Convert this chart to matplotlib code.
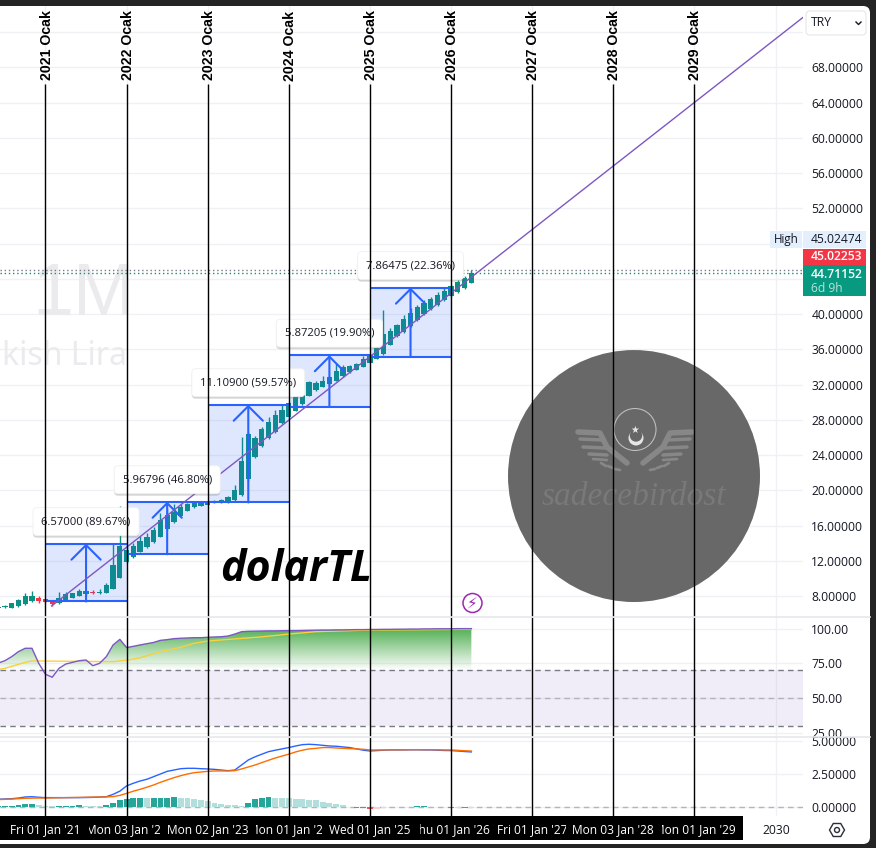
import numpy as np
import matplotlib
matplotlib.use("Agg")
import matplotlib.pyplot as plt
from matplotlib.patches import Rectangle, Ellipse, Circle, RegularPolygon, FancyBboxPatch
from matplotlib.path import Path
from matplotlib.transforms import Affine2D, Bbox
from matplotlib.patheffects import withSimplePatchShadow

plt.rcParams['font.family'] = ['Open Sans', 'DejaVu Sans']

# months counted from Jan 2021
months = list(range(-7, 64))
opens = [6.60, 6.71, 6.68, 6.87, 7.09, 7.43, 7.77, 7.62, 7.43, 7.25, 7.47, 7.81, 8.00, 8.23, 8.45, 8.34, 8.38,
         8.83, 10.08, 11.90, 12.47, 13.03, 13.60, 14.17, 14.73, 15.57, 16.44, 17.12, 17.69, 18.07, 18.25,
         18.37, 18.59, 18.63, 18.67, 18.89, 19.46, 21.28, 23.81, 25.06, 25.89, 26.65, 27.59, 28.35, 29.03,
         29.79, 30.74, 31.38, 31.76, 32.06, 32.44, 32.97, 33.42, 33.65, 34.03, 34.48, 34.94, 35.50, 36.53,
         37.50, 38.00, 38.64, 39.32, 40.00, 40.54, 41.03, 41.59, 42.05, 42.54, 42.99, 43.56]
closes = [6.71, 6.87, 7.17, 7.55, 7.96, 8.00, 7.39, 7.32, 7.09, 7.73, 8.19, 8.30, 8.53, 8.53, 8.38, 8.49, 9.21,
          11.52, 13.68, 13.22, 13.68, 14.24, 14.73, 15.49, 16.63, 17.20, 17.57, 18.14, 18.44, 18.52, 18.63,
          18.67, 18.78, 18.90, 19.28, 20.03, 23.32, 26.38, 25.89, 26.95, 27.78, 28.54, 29.11, 29.87, 30.70,
          30.81, 32.25, 32.14, 32.40, 32.82, 33.54, 34.03, 34.10, 34.29, 34.90, 35.35, 36.11, 37.70, 38.08,
          38.76, 39.44, 40.08, 40.84, 41.29, 41.71, 42.16, 42.65, 43.18, 43.64, 44.13, 44.71]
highs = [6.75, 6.95, 7.25, 7.65, 8.38, 8.57, 8.00, 7.70, 7.45, 8.42, 8.42, 8.40, 8.76, 8.55, 8.64, 8.83, 9.44,
         13.98, 18.20, 13.90, 14.00, 14.80, 15.10, 15.80, 17.40, 17.95, 18.44, 18.50, 18.60, 18.60, 18.70,
         18.75, 18.85, 19.05, 19.40, 20.60, 26.08, 26.60, 26.20, 27.22, 28.35, 29.11, 29.68, 30.05, 30.80,
         30.90, 32.44, 32.44, 32.97, 32.97, 34.41, 34.20, 34.22, 34.45, 35.24, 35.47, 36.30, 40.46, 38.38,
         38.90, 39.89, 40.65, 41.03, 41.60, 41.97, 42.46, 42.92, 43.30, 43.86, 44.32, 45.02]
lows = [6.55, 6.65, 6.62, 6.80, 7.00, 7.35, 7.17, 7.25, 6.87, 7.15, 7.40, 7.75, 7.95, 8.15, 8.19, 8.19, 8.30,
        8.75, 10.00, 11.70, 12.30, 12.95, 13.50, 14.05, 14.65, 15.45, 16.30, 17.05, 17.60, 18.00, 18.20,
        18.30, 18.55, 18.55, 18.60, 18.80, 19.40, 21.10, 23.70, 24.95, 25.80, 26.55, 27.50, 28.25, 28.95,
        29.70, 30.65, 31.30, 31.70, 32.00, 32.35, 32.90, 33.35, 33.60, 33.95, 34.40, 34.85, 35.40, 36.45,
        37.40, 37.90, 38.55, 39.25, 39.90, 40.45, 40.95, 41.50, 41.95, 42.45, 42.90, 43.50]

# measured moves: start month, end month, arrow month, low, high, label
box_start = [0, 12, 24, 36, 48]
box_end = [12, 24, 36, 48, 60]
box_mid = [6, 18, 30, 42, 54]
box_low = [7.38, 12.74, 18.62, 29.47, 35.15]
box_high = [13.95, 18.71, 29.72, 35.34, 43.01]
box_labels = ["6.57000 (89.67%)", "5.96796 (46.80%)", "11.10900 (59.57%)", "5.87205 (19.90%)", "7.86475 (22.36%)"]

trend_x = [0.9, 112.1]
trend_y = [6.87, 73.7]

year_months = [0, 12, 24, 36, 48, 60, 72, 84, 96]
year_labels = ["2021 Ocak", "2022 Ocak", "2023 Ocak", "2024 Ocak", "2025 Ocak", "2026 Ocak", "2027 Ocak",
               "2028 Ocak", "2029 Ocak"]
date_labels = ["Fri 01 Jan '21", "Mon 03 Jan '22", "Mon 02 Jan '23", "Mon 01 Jan '24", "Wed 01 Jan '25",
               "Thu 01 Jan '26", "Fri 01 Jan '27", "Mon 03 Jan '28", "Mon 01 Jan '29"]

rsi = [75.2, 76.9, 79.8, 83.4, 85.8, 85.8, 75.0, 67.1, 65.0, 71.4, 74.5, 75.7, 76.9, 77.4, 73.3, 75.0, 79.8,
       88.2, 92.2, 86.3, 87.2, 88.2, 89.1, 90.0, 91.5, 92.0, 92.7, 93.0, 93.2, 93.4, 93.4, 93.7, 93.9,
       94.1, 94.6, 96.0, 97.7, 98.0, 98.1, 98.2, 98.3, 98.3, 98.4, 98.5, 98.5, 98.6, 98.7, 98.8, 98.9,
       98.9, 99.0, 99.0, 99.1, 99.2, 99.2, 99.3, 99.3, 99.4, 99.4, 99.5, 99.5, 99.6, 99.6, 99.7, 99.7,
       99.8, 99.8, 99.8, 99.9, 99.9, 99.9]
rsi_ma_x = [-7, -6, -3, -2, 10, 12, 14, 17, 20, 22, 24, 28, 32, 36, 40, 48, 63]
rsi_ma = [70.6, 71.4, 75.7, 76.7, 76.2, 77.2, 79.0, 83.4, 86.5, 89.4, 91.0, 92.5, 94.0, 96.0, 97.7, 98.9, 99.4]

macd = [0.59, 0.61, 0.63, 0.68, 0.76, 0.78, 0.74, 0.71, 0.71, 0.71, 0.71, 0.71, 0.71, 0.72, 0.73, 0.75, 0.78,
        0.96, 1.20, 1.60, 1.80, 1.97, 2.10, 2.30, 2.50, 2.70, 2.80, 2.90, 2.93, 2.93, 2.90, 2.88, 2.85,
        2.80, 2.75, 2.80, 3.18, 3.56, 3.80, 4.00, 4.19, 4.30, 4.40, 4.50, 4.62, 4.72, 4.75, 4.72, 4.67,
        4.62, 4.60, 4.55, 4.50, 4.40, 4.30, 4.24, 4.27, 4.30, 4.32, 4.32, 4.32, 4.33, 4.33, 4.32, 4.32,
        4.30, 4.28, 4.27, 4.24, 4.20, 4.17]
signal = [0.56, 0.58, 0.60, 0.63, 0.66, 0.67, 0.68, 0.68, 0.69, 0.70, 0.71, 0.72, 0.73, 0.74, 0.75, 0.76, 0.76,
          0.79, 0.88, 1.03, 1.20, 1.34, 1.50, 1.67, 1.87, 2.05, 2.22, 2.37, 2.50, 2.60, 2.65, 2.70, 2.73,
          2.73, 2.73, 2.75, 2.88, 3.03, 3.18, 3.36, 3.54, 3.71, 3.86, 4.00, 4.17, 4.30, 4.40, 4.44, 4.50,
          4.50, 4.47, 4.44, 4.42, 4.40, 4.37, 4.32, 4.32, 4.32, 4.33, 4.33, 4.33, 4.34, 4.34, 4.34, 4.34,
          4.33, 4.32, 4.32, 4.29, 4.26, 4.24]
hist = [0.08, 0.10, 0.10, 0.13, 0.20, 0.20, 0.18, 0.10, 0.05, 0.05, 0.10, 0.10, 0.12, 0.10, 0.09, 0.08, 0.13,
        0.28, 0.50, 0.63, 0.66, 0.67, 0.65, 0.66, 0.67, 0.70, 0.73, 0.70, 0.66, 0.58, 0.50, 0.43, 0.33,
        0.25, 0.18, 0.13, 0.10, 0.28, 0.58, 0.66, 0.73, 0.72, 0.71, 0.68, 0.63, 0.58, 0.56, 0.50, 0.35,
        0.28, 0.20, 0.13, -0.03, -0.08, -0.10, -0.13, -0.12, -0.06, -0.03, -0.02, -0.02, 0.03, 0.10, 0.11,
        0.02, 0.00, -0.03, -0.05, -0.05, -0.06, -0.06]

price_ticks = [8, 12, 16, 20, 24, 28, 32, 36, 40, 44, 48, 52, 56, 60, 64, 68, 72]
price_tick_labels = ["8.00000", "12.00000", "16.00000", "20.00000", "24.00000", "28.00000", "32.00000",
                     "36.00000", "40.00000", "", "", "52.00000", "56.00000", "60.00000", "64.00000",
                     "68.00000", ""]
rsi_ticks = [25, 50, 75, 100]
rsi_tick_labels = ["25.00", "50.00", "75.00", "100.00"]
macd_ticks = [0, 2.5, 5]
macd_tick_labels = ["0.00000", "2.50000", "5.00000"]

W, H = 876, 848
GREEN = '#0a9181'
RED = '#f23645'
BLUE = '#2962ff'
PURPLE = '#7e57c2'
GRID = '#f0f1f4'
INK = '#131722'
DISC = '#666666'


def pane(top, bottom):
    return fig.add_axes([0, 1 - bottom / H, 803 / W, (bottom - top) / H])


fig = plt.figure(figsize=(W / 100, H / 100), dpi=100, facecolor='#242424')
# screen pixels, origin top left
px = Affine2D().scale(1, -1).translate(0, H)

fig.add_artist(FancyBboxPatch((-20, 6), 890, 838, boxstyle='round,pad=0,rounding_size=7', fc='white', ec='none',
                              transform=px, zorder=-5))

ax = pane(6, 617)
ax_rsi = pane(617, 737)
ax_macd = pane(737, 816)

for a in (ax, ax_rsi, ax_macd):
    a.set_xlim(-6.73, 112.06)
    a.set_xticks(year_months + [108])
    a.tick_params(axis='x', length=0, labelbottom=False)
    a.tick_params(axis='y', length=0, pad=6, labelsize=8.7, labelcolor=INK, right=False, left=False)
    a.yaxis.tick_right()
    a.grid(True, color=GRID, lw=1)
    a.set_axisbelow(True)
    for s in a.spines.values():
        s.set_visible(False)

ax.set_ylim(5.62, 74.97)
ax.set_yticks(price_ticks, labels=price_tick_labels)
ax_rsi.set_ylim(22.1, 108.26)
ax_rsi.set_yticks(rsi_ticks, labels=rsi_tick_labels)
ax_macd.set_ylim(-0.68, 5.30)
ax_macd.set_yticks(macd_ticks, labels=macd_tick_labels)

# faint symbol watermark
ax.text(135, 315, "1M", transform=px, ha='right', va='baseline', fontsize=53, color='#ebebee',
        family='Liberation Sans', zorder=1)
ax.text(2, 365, "kish Lira", transform=px, ha='left', va='baseline', fontsize=23,
        color='#ebebee', family='Noto Sans', zorder=1)

# price lines
ax.axhline(closes[-1], color=GREEN, lw=1, ls=(0, (1, 2)), zorder=1.5)
ax.axhline(highs[-1], color='#787b86', lw=1, ls=(0, (1, 2)), zorder=1.5)

# candles
m = np.array(months)
o = np.array(opens)
c = np.array(closes)
colors = [GREEN if b >= a else RED for a, b in zip(opens, closes)]
ax.vlines(m, lows, highs, colors=colors, lw=1, zorder=2)
body = np.maximum(np.abs(c - o), 0.06)
ax.bar(m, body, bottom=np.minimum(o, c), width=0.78, color=colors, zorder=2.1)

# logo disc
ax.add_patch(Ellipse((87.06, 21.62), 37.28, 28.6, fc=DISC, ec='none', alpha=0.985, zorder=3))
ax.add_patch(Circle((635, 429.5), 21, transform=px, fc='none', ec='#bdbdbd', lw=0.8, zorder=3.1))
ax.add_patch(Circle((636, 438), 7.5, transform=px, fc='#e6e6e6', ec='none', zorder=3.1))
ax.add_patch(Circle((636, 435.5), 6.2, transform=px, fc=DISC, ec='none', zorder=3.15))
ax.text(634.5, 429.5, "\u2605", transform=px, ha='center', va='center', fontsize=7, color='#e6e6e6',
        family='DejaVu Sans', zorder=3.2)
wing_parts = [([-57, -35, -28, -8], [432, 433, 447, 463], 4),
              ([-55, -32], [439, 440], 2.5), ([-52, -30], [447, 448], 2.5), ([-46, -28], [454, 455], 2.5),
              ([-42, -28], [459, 460], 2), ([-34, -29], [463, 466], 2), ([-27, -22], [466, 468], 2),
              ([-20, -15], [469, 470], 2)]
for xs, ys, lw in wing_parts:
    for sign in (-1, 1):
        ax.plot([635 - sign * v for v in xs], ys, transform=px, color='#878787', lw=lw, solid_capstyle='round',
                zorder=3.1, scalex=False, scaley=False)
ax.text(634, 497, "sadecebirdost", transform=px, ha='center', va='center', fontsize=24, style='italic',
        family='Liberation Serif', color='#797979', zorder=3.1)

# measured move boxes
for x0, x1, xm, lo, hi, lab in zip(box_start, box_end, box_mid, box_low, box_high, box_labels):
    ax.add_patch(Rectangle((x0, lo), x1 - x0, hi - lo, fc=BLUE, alpha=0.15, ec='none', zorder=3.2))
    ax.hlines([lo, hi], x0, x1, color=BLUE, lw=1.5, zorder=3.3)
    ax.annotate("", xy=(xm, hi), xytext=(xm, lo), zorder=3.3,
                arrowprops=dict(arrowstyle='->,head_length=0.5,head_width=0.5', color=BLUE, lw=1.5,
                                mutation_scale=21, shrinkA=0, shrinkB=0))
    t = ax.annotate(lab, xy=(xm, hi), xytext=(0, 22), textcoords='offset pixels', ha='center', va='center',
                    fontsize=8.1, color=INK, zorder=3.6,
                    bbox=dict(boxstyle='round,pad=0.75,rounding_size=0.35', fc='white', ec='#f0f0f0', lw=0.6))
    t.get_bbox_patch().set_path_effects([withSimplePatchShadow(offset=(0, -1.5), shadow_rgbFace='#777777', alpha=0.3)])

ax.plot(trend_x, trend_y, color=PURPLE, lw=1, zorder=3.4)

# year lines
ax.vlines(year_months, 5.62, 8 + (596 - 84) / 8.81, color='black', lw=1, zorder=4)
for ym, lab in zip(year_months, year_labels):
    ax.text(ym + 0.15, 8 + (596 - 45.5) / 8.81, lab, rotation=90, ha='center', va='center', fontsize=10.2,
            fontweight='bold', family='Liberation Sans', color='black', zorder=4)

ax.text(220, 581, "dolarTL", transform=px, ha='left', va='baseline', fontsize=31, fontweight='bold',
        style='italic', family='Open Sans', color='black', zorder=4)

# RSI pane
ax_rsi.axhspan(30, 70, color=PURPLE, alpha=0.1, lw=0, zorder=1)
for level, col in ((70, '#787b86'), (50, '#b2b2ba'), (30, '#787b86')):
    ax_rsi.axhline(level, color=col, lw=1, ls=(0, (4, 3)), zorder=1.2)
fill = ax_rsi.fill_between(months, 70, rsi, where=np.array(rsi) >= 70, interpolate=True, color='none', lw=0)
grad = np.zeros((256, 1, 4))
grad[:, :, 0:3] = (0.30, 0.68, 0.31)
grad[:, 0, 3] = np.linspace(1.0, 0.0, 256)
im = ax_rsi.imshow(grad, extent=[-6.73, 63.4, 70, 100.5], aspect='auto', zorder=1.5, interpolation='bilinear')
im.set_clip_path(Path.make_compound_path(*fill.get_paths()), transform=ax_rsi.transData)
ax_rsi.set_xlim(-6.73, 112.06)
ax_rsi.set_ylim(22.1, 108.26)
ax_rsi.plot(rsi_ma_x, rsi_ma, color='#fbd03a', lw=1, zorder=2)
ax_rsi.plot(months, rsi, color=PURPLE, lw=1, zorder=2.1)
ax_rsi.vlines(year_months, 22.1, 108.26, color='black', lw=1, zorder=4)

# MACD pane
h = np.array(hist)
hist_colors = []
for i, v in enumerate(hist):
    prev = hist[i - 1] if i else v
    if v >= 0:
        hist_colors.append('#26a69a' if v >= prev else '#b2dfdb')
    else:
        hist_colors.append('#ffcdd2' if v >= prev else '#ff5252')
ax_macd.axhline(0, color='#b2b5be', lw=1, ls=(0, (4, 3)), zorder=1.2)
ax_macd.bar(months, h, width=0.86, color=hist_colors, zorder=2)
ax_macd.plot(months, macd, color=BLUE, lw=1, zorder=2.5)
ax_macd.plot(months, signal, color='#ff6d00', lw=1, zorder=2.6)
ax_macd.vlines(year_months, -0.68, 5.30, color='black', lw=1, zorder=4)

# pane separators
for y in (617, 737):
    fig.add_artist(plt.Line2D([0, 870], [y, y], transform=px, color='#e6e7ec', lw=1.2, zorder=5))

# time axis
fig.add_artist(Rectangle((0, 816), 743, 24, transform=px, fc='black', ec='none', zorder=6))
date_clip = [(0, 90), (89, 160), (160, 250), (256, 322), (325, 415), (420, 495), (490, 566), (570, 656), (662, 743)]
for ym, lab, (c0, c1) in zip(year_months, date_labels, date_clip):
    t = fig.text(45.5 + 6.76 * ym, 830, lab, transform=px, ha='center', va='center', fontsize=8.6, color='white',
                 zorder=7)
    t.set_clip_box(Bbox([[c0, 0], [c1, H]]))
    t.set_clip_on(True)
fig.text(776, 830, "2030", transform=px, ha='center', va='center', fontsize=8.7, color=INK, zorder=7)
fig.add_artist(RegularPolygon((837, 830), 6, radius=7.5, orientation=np.pi / 2, transform=px, fc='none',
                              ec='#2a2e39', lw=1, zorder=7))
fig.add_artist(Circle((837, 830), 2.5, transform=px, fc='none', ec='#2a2e39', lw=1, zorder=7))

# right scale badges
fig.add_artist(Rectangle((770, 231), 32, 17, transform=px, fc='#e3effd', ec='none', zorder=6))
fig.add_artist(Rectangle((803, 231), 63, 17, transform=px, fc='#e3effd', ec='none', zorder=6))
fig.add_artist(Rectangle((803, 249), 63, 16, transform=px, fc=RED, ec='none', zorder=6))
fig.add_artist(Rectangle((803, 265), 63, 31, transform=px, fc='#089981', ec='none', zorder=6))
fig.text(786, 239.5, "High", transform=px, ha='center', va='center', fontsize=8.4, color=INK, zorder=7)
fig.text(811, 239.5, "45.02474", transform=px, ha='left', va='center', fontsize=8.7, color=INK, zorder=7)
fig.text(811, 257, "45.02253", transform=px, ha='left', va='center', fontsize=8.7, color='white', zorder=7,
         fontweight='semibold')
fig.text(811, 274, "44.71152", transform=px, ha='left', va='center', fontsize=8.7, color='white', zorder=7,
         fontweight='semibold')
fig.text(811, 288, "6d 9h", transform=px, ha='left', va='center', fontsize=8.7, color='#b5e3d8', zorder=7)

# currency selector
fig.add_artist(FancyBboxPatch((806, 11), 60, 24, boxstyle='round,pad=0,rounding_size=4', transform=px, fc='white',
                              ec='#e6e7ec', lw=0.8, zorder=6))
fig.text(811, 23, "TRY", transform=px, ha='left', va='center', fontsize=8.7, color=INK, zorder=7)
fig.add_artist(plt.Line2D([856, 858.5, 861], [22, 24.5, 22], transform=px, color=INK, lw=1, zorder=7))

# alert badge
fig.add_artist(Circle((472.5, 603), 9.5, transform=px, fc='white', ec='#9c27b0', lw=1.1, zorder=6))
fig.text(472.5, 603, "\u26a1", transform=px, ha='center', va='center', fontsize=11, color='#9c27b0',
         family='DejaVu Sans', zorder=7)

fig.savefig("out.png", dpi=100, facecolor=fig.get_facecolor())
